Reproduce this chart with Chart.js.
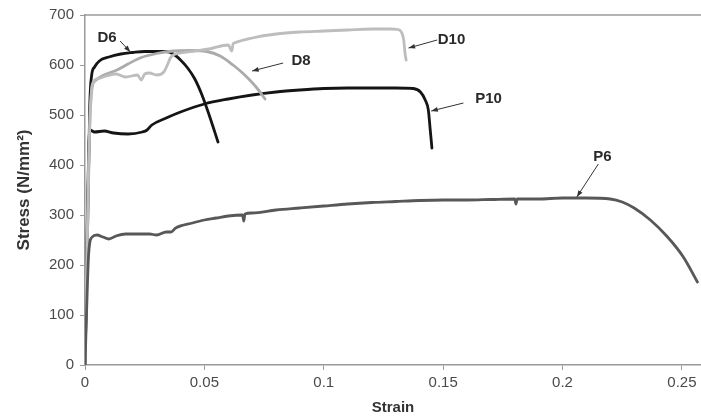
<!DOCTYPE html>
<html>
<head>
<meta charset="utf-8">
<script src="https://cdn.jsdelivr.net/npm/chart.js@4"></script>
<style>
  html, body { margin: 0; padding: 0; background: #fff; }
  #wrap { width: 701px; height: 419px; }
</style>
</head>
<body>
<div id="wrap"><canvas id="myChart"></canvas></div>
<script>
'use strict';

// stress-strain curves (strain, N/mm2)
let d6Strain = [0, 0.001, 0.002, 0.0028, 0.004, 0.006, 0.01, 0.015, 0.02, 0.025, 0.03, 0.034, 0.037, 0.040, 0.043, 0.046, 0.049, 0.052, 0.0557];
let d6Stress = [0, 250, 520, 580, 596, 608, 616, 622, 625, 627, 627, 627, 622, 610, 594, 572, 540, 500, 446];

let d8Strain = [0, 0.001, 0.002, 0.003, 0.0042, 0.008, 0.0134, 0.018, 0.023, 0.030, 0.037, 0.044, 0.051, 0.0566, 0.062, 0.066, 0.069, 0.072, 0.0754];
let d8Stress = [0, 250, 480, 555, 568, 580, 590, 602, 614, 623, 628, 629, 627, 618, 600, 584, 570, 554, 532];

let d10Strain = [0, 0.0015, 0.003, 0.005, 0.009, 0.013, 0.017, 0.022, 0.0235, 0.025, 0.027, 0.030, 0.033, 0.0345, 0.036, 0.040, 0.046, 0.052, 0.060, 0.0615, 0.062, 0.0625, 0.07, 0.08, 0.09, 0.1, 0.11, 0.12, 0.128, 0.131, 0.1325, 0.1335, 0.134, 0.1345];
let d10Stress = [0, 400, 560, 572, 578, 582, 576, 580, 570, 582, 584, 580, 586, 600, 616, 624, 628, 632, 640, 628, 642, 644, 654, 662, 666, 668, 670, 672, 672, 671, 666, 650, 625, 610];

let p10Strain = [0, 0.001, 0.002, 0.004, 0.008, 0.012, 0.018, 0.024, 0.026, 0.028, 0.034, 0.040, 0.05, 0.06, 0.07, 0.08, 0.09, 0.1, 0.11, 0.12, 0.13, 0.1375, 0.1405, 0.1425, 0.1438, 0.1446, 0.1453];
let p10Stress = [0, 300, 470, 466, 468, 464, 462, 466, 470, 480, 494, 506, 522, 532, 540, 546, 550, 553, 554, 554, 554, 553, 546, 530, 510, 470, 434];

let p6Strain = [0, 0.0005, 0.001, 0.0015, 0.002, 0.003, 0.005, 0.0075, 0.01, 0.013, 0.017, 0.022, 0.027, 0.03, 0.034, 0.036, 0.038, 0.045, 0.05, 0.055, 0.06, 0.066, 0.0665, 0.067, 0.07, 0.08, 0.09, 0.1, 0.11, 0.12, 0.13, 0.14, 0.15, 0.16, 0.17, 0.18, 0.1805, 0.181, 0.19, 0.2, 0.21, 0.22, 0.225, 0.23, 0.2368, 0.244, 0.2506, 0.2565];
let p6Stress = [0, 80, 160, 220, 245, 256, 260, 256, 252, 258, 262, 262, 262, 260, 266, 266, 274, 284, 290, 294, 298, 300, 288, 302, 304, 310, 314, 318, 322, 325, 327, 329, 330, 330, 331, 332, 322, 332, 332, 334, 334, 332, 326, 314, 290, 256, 216, 166];

// callout labels: text, label position, arrow start, arrow tip (data units)
let labelNames = ['D6', 'D8', 'D10', 'P10', 'P6'];
let labelAt = [[0.0092, 654], [0.0905, 608], [0.1535, 650], [0.169, 532], [0.2167, 416]];
let arrowFrom = [[0.0147, 648], [0.0830, 604], [0.1475, 650], [0.1585, 524], [0.2150, 402]];
let arrowTo = [[0.0190, 626], [0.0700, 588], [0.1355, 634], [0.1450, 508], [0.2060, 336]];

function toPoints(xs, ys) {
  let out = [];
  for (let i = 0; i < xs.length; i++) {
    out.push({ x: xs[i], y: ys[i] });
  }
  return out;
}

function curve(label, xs, ys, color) {
  return {
    label: label,
    data: toPoints(xs, ys),
    showLine: true,
    borderColor: color,
    borderWidth: 2.8,
    pointRadius: 0,
    cubicInterpolationMode: 'monotone',
    borderJoinStyle: 'round',
    borderCapStyle: 'round'
  };
}

let callouts = {
  id: 'callouts',
  afterDatasetsDraw(chart) {
    let ctx = chart.ctx;
    let xs = chart.scales.x;
    let ys = chart.scales.y;
    ctx.save();
    // top frame line
    ctx.strokeStyle = '#9a9a9a';
    ctx.lineWidth = 1.5;
    ctx.beginPath();
    ctx.moveTo(chart.chartArea.left, chart.chartArea.top);
    ctx.lineTo(chart.chartArea.right, chart.chartArea.top);
    ctx.stroke();

    for (let i = 0; i < labelNames.length; i++) {
      let x1 = xs.getPixelForValue(arrowFrom[i][0]);
      let y1 = ys.getPixelForValue(arrowFrom[i][1]);
      let x2 = xs.getPixelForValue(arrowTo[i][0]);
      let y2 = ys.getPixelForValue(arrowTo[i][1]);
      ctx.strokeStyle = '#333';
      ctx.fillStyle = '#333';
      ctx.lineWidth = 1;
      ctx.beginPath();
      ctx.moveTo(x1, y1);
      ctx.lineTo(x2, y2);
      ctx.stroke();
      let a = Math.atan2(y2 - y1, x2 - x1);
      ctx.beginPath();
      ctx.moveTo(x2, y2);
      ctx.lineTo(x2 - 7 * Math.cos(a - 0.35), y2 - 7 * Math.sin(a - 0.35));
      ctx.lineTo(x2 - 7 * Math.cos(a + 0.35), y2 - 7 * Math.sin(a + 0.35));
      ctx.closePath();
      ctx.fill();

      ctx.fillStyle = '#2a2a2a';
      ctx.font = 'bold 15px "Liberation Sans", Arial, sans-serif';
      ctx.textAlign = 'center';
      ctx.textBaseline = 'middle';
      ctx.fillText(labelNames[i], xs.getPixelForValue(labelAt[i][0]), ys.getPixelForValue(labelAt[i][1]));
    }
    ctx.restore();
  }
};

let ctx = document.getElementById('myChart').getContext('2d');
let myChart = new Chart(ctx, {
  type: 'scatter',
  data: {
    datasets: [
      curve('P6', p6Strain, p6Stress, '#585858'),
      curve('D10', d10Strain, d10Stress, '#bdbdbd'),
      curve('D8', d8Strain, d8Stress, '#ababab'),
      curve('P10', p10Strain, p10Stress, '#151515'),
      curve('D6', d6Strain, d6Stress, '#151515')
    ]
  },
  options: {
    responsive: true,
    maintainAspectRatio: false,
    animation: false,
    layout: { padding: { top: 15, right: 0, left: 0, bottom: 0 } },
    plugins: {
      legend: { display: false },
      tooltip: { enabled: false }
    },
    scales: {
      x: {
        type: 'linear',
        min: 0,
        max: 0.258,
        afterFit(scale) { scale.height = 54; },
        border: { display: true, color: '#9a9a9a', width: 1.5 },
        grid: { drawOnChartArea: false, drawTicks: true, tickLength: 5, color: '#9a9a9a' },
        ticks: {
          stepSize: 0.05,
          includeBounds: false,
          maxRotation: 0,
          padding: 4,
          color: '#4a4a4a',
          font: { family: '"Liberation Sans", Arial, sans-serif', size: 15 },
          callback: (v) => String(+v.toFixed(2))
        },
        title: {
          display: true,
          text: 'Strain',
          color: '#333',
          font: { family: '"Liberation Sans", Arial, sans-serif', size: 15, weight: 'bold' },
          padding: { top: 0, bottom: 2 }
        }
      },
      y: {
        min: 0,
        max: 700,
        afterFit(scale) { scale.width = 85; },
        border: { display: true, color: '#9a9a9a', width: 1.5 },
        grid: { drawOnChartArea: false, drawTicks: true, tickLength: 5, color: '#9a9a9a' },
        ticks: {
          stepSize: 100,
          padding: 6,
          color: '#4a4a4a',
          font: { family: '"Liberation Sans", Arial, sans-serif', size: 15 }
        },
        title: {
          display: true,
          text: 'Stress (N/mm²)',
          color: '#333',
          font: { family: '"Liberation Sans", Arial, sans-serif', size: 17, weight: 'bold' },
          padding: { top: 14, bottom: 4 }
        }
      }
    }
  },
  plugins: [callouts]
});
</script>
</body>
</html>
